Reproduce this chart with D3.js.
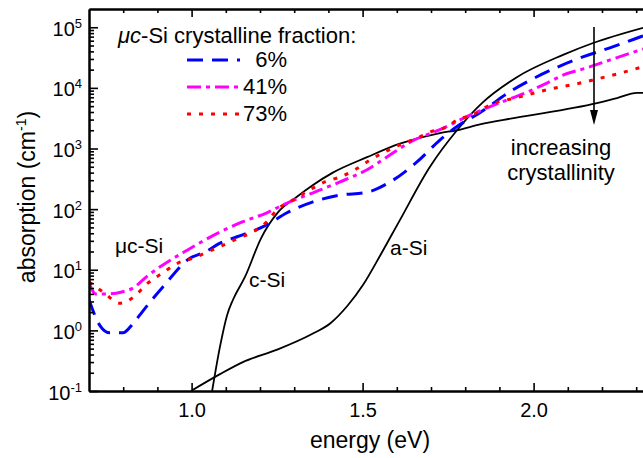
<!DOCTYPE html>
<html>
<head>
<meta charset="utf-8">
<script src="https://cdn.jsdelivr.net/npm/d3@7"></script>
<style>
  body { margin: 0; background: #fff; }
  svg { display: block; font-family: Arial, "Liberation Sans", sans-serif; }
</style>
</head>
<body>
<svg id="chart" width="643" height="458"></svg>
<script>
// absorption spectra of Si films

var majorE = [1.0, 1.5, 2.0];
var minorE = [0.8, 0.9, 1.1, 1.2, 1.3, 1.4, 1.6, 1.7, 1.8, 1.9, 2.1, 2.2, 2.3];
var decades = [-1, 0, 1, 2, 3, 4, 5];

// black reference curves
var aSiE = [0.998, 1.083, 1.150, 1.250, 1.352, 1.405, 1.457, 1.501, 1.551, 1.609, 1.697, 1.776, 1.849, 1.951, 2.086, 2.174, 2.320];
var aSiA = [0.1, 0.19, 0.30, 0.48, 0.87, 1.3, 2.6, 5.6, 17, 66, 500, 2000, 5600, 15000, 35000, 55000, 98000];
var cSiE = [1.060, 1.083, 1.104, 1.121, 1.156, 1.203, 1.253, 1.308, 1.355, 1.413, 1.513, 1.609, 1.726, 1.776, 1.843, 1.946, 2.185, 2.244, 2.302, 2.320];
var cSiA = [0.1, 0.54, 1.8, 3.2, 7.6, 33, 89, 160, 250, 400, 720, 1200, 1800, 2000, 2500, 3200, 5600, 6800, 8300, 8300];

// uc-Si, crystalline fraction 6 %
var e6 = [0.700, 0.732, 0.761, 0.799, 0.829, 0.858, 0.884, 0.916, 0.995, 1.039, 1.083, 1.133, 1.220, 1.279, 1.355, 1.434, 1.513, 1.580, 1.659, 1.726, 1.776, 1.843, 1.940, 1.998, 2.077, 2.144, 2.223, 2.311, 2.320];
var a6 = [3.2, 1.2, 0.91, 0.91, 1.3, 2.1, 3.2, 5.2, 15.5, 19.5, 27.5, 35, 55, 87, 132, 170, 190, 280, 600, 1380, 2300, 3900, 9300, 14100, 22900, 32400, 45700, 69000, 72000];
// 41 %
var e41 = [0.700, 0.720, 0.756, 0.796, 0.829, 0.873, 0.916, 0.987, 1.083, 1.150, 1.220, 1.279, 1.355, 1.434, 1.513, 1.571, 1.647, 1.726, 1.814, 1.922, 1.981, 2.039, 2.086, 2.156, 2.244, 2.320];
var a41 = [6.0, 4.0, 4.0, 4.3, 5.0, 8.1, 12, 21, 42, 62, 87, 126, 186, 282, 447, 724, 1350, 2040, 3550, 6300, 8500, 12000, 16200, 21400, 31600, 43700];
// 73 %
var e73 = [0.700, 0.741, 0.791, 0.829, 0.870, 0.916, 0.960, 1.004, 1.045, 1.086, 1.136, 1.180, 1.220, 1.250, 1.296, 1.346, 1.390, 1.434, 1.478, 1.522, 1.560, 1.609, 1.659, 1.697, 1.747, 1.776, 1.820, 1.873, 1.951, 2.039, 2.127, 2.209, 2.296, 2.320];
var a73 = [6.3, 4.3, 2.8, 3.5, 5.9, 8.9, 12.9, 15.5, 19.5, 24.5, 33, 42, 62, 98, 141, 209, 282, 339, 447, 646, 851, 1150, 1480, 1860, 2290, 2950, 3550, 5250, 6900, 9300, 11700, 15100, 20400, 22400];

var fractions = ['6%', '41%', '73%'];
var colors = ['#0000ff', '#ff00ff', '#ff0000'];
var dashes = ['16,9', '14,5,4,5', '4,8'];

var svg = d3.select('#chart');
var plotLeft = 89, plotTop = 9, plotBottom = 391;

var x = d3.scaleLinear().domain([0.7, 2.33]).range([plotLeft, plotLeft + 1.63 * 342]);
var y = d3.scaleLog().domain([0.1, 2e5]).range([plotBottom, plotTop]);

svg.append('clipPath').attr('id', 'clip')
  .append('rect').attr('x', plotLeft).attr('y', plotTop)
  .attr('width', 643 - plotLeft).attr('height', plotBottom - plotTop);

function zip(es, as) {
  return es.map(function(e, i) { return {e: e, a: as[i]}; });
}

var line = d3.line()
  .x(function(d) { return x(d.e); })
  .y(function(d) { return y(d.a); })
  .curve(d3.curveMonotoneX);

var plot = svg.append('g').attr('clip-path', 'url(#clip)');

plot.append('path').datum(zip(aSiE, aSiA))
  .attr('d', line).attr('fill', 'none').attr('stroke', '#000').attr('stroke-width', 1.8);
plot.append('path').datum(zip(cSiE, cSiA))
  .attr('d', line).attr('fill', 'none').attr('stroke', '#000').attr('stroke-width', 1.8);

var series = [zip(e6, a6), zip(e41, a41), zip(e73, a73)];
series.forEach(function(s, i) {
  plot.append('path').datum(s)
    .attr('d', line).attr('fill', 'none')
    .attr('stroke', colors[i]).attr('stroke-width', 3)
    .attr('stroke-dasharray', dashes[i]);
});

// axes, ticks pointing inward
function styleAxis(g) {
  g.select('.domain').attr('stroke-width', 2);
  g.selectAll('.tick line').attr('stroke-width', 1.6);
}

var gx = svg.append('g').attr('transform', 'translate(0,' + plotBottom + ')')
  .call(d3.axisBottom(x).tickValues(majorE).tickSizeInner(-8).tickSizeOuter(0)
    .tickPadding(12).tickFormat(d3.format('.1f')));
gx.selectAll('text').attr('font-size', 20).attr('fill', '#000');
styleAxis(gx);
svg.append('g').attr('transform', 'translate(0,' + plotBottom + ')')
  .call(d3.axisBottom(x).tickValues(minorE).tickSizeInner(-4).tickSizeOuter(0).tickFormat(''))
  .call(styleAxis);

svg.append('g').attr('transform', 'translate(0,' + plotTop + ')')
  .call(d3.axisTop(x).tickValues(majorE).tickSizeInner(-8).tickSizeOuter(0).tickFormat(''))
  .call(styleAxis);
svg.append('g').attr('transform', 'translate(0,' + plotTop + ')')
  .call(d3.axisTop(x).tickValues(minorE).tickSizeInner(-4).tickSizeOuter(0).tickFormat(''))
  .call(styleAxis);

var majorA = decades.map(function(p) { return Math.pow(10, p); });
var minorA = [];
decades.forEach(function(p) {
  for (var k = 2; k <= 9; k++) {
    var v = k * Math.pow(10, p);
    if (v < 2e5) minorA.push(v);
  }
});

var gy = svg.append('g').attr('transform', 'translate(' + plotLeft + ',0)')
  .call(d3.axisLeft(y).tickValues(majorA).tickSizeInner(-9).tickSizeOuter(0).tickFormat(''));
styleAxis(gy);
svg.append('g').attr('transform', 'translate(' + plotLeft + ',0)')
  .call(d3.axisLeft(y).tickValues(minorA).tickSizeInner(-5).tickSizeOuter(0).tickFormat(''))
  .call(styleAxis);

gy.selectAll('.tick').each(function(d) {
  var t = d3.select(this).append('text')
    .attr('x', -7).attr('y', 8).attr('text-anchor', 'end')
    .attr('fill', '#000').attr('font-size', 20);
  t.append('tspan').text('10');
  t.append('tspan').attr('dy', -8).attr('font-size', 13).text(Math.round(Math.log10(d)));
});

// axis titles
svg.append('text').attr('x', 370).attr('y', 448).attr('text-anchor', 'middle')
  .attr('font-size', 23).text('energy (eV)');

var yt = svg.append('text').attr('transform', 'translate(35,197) rotate(-90)')
  .attr('text-anchor', 'middle').attr('font-size', 23);
yt.append('tspan').text('absorption (cm');
yt.append('tspan').attr('dy', -9).attr('font-size', 14).text('-1');
yt.append('tspan').attr('dy', 9).text(')');

// legend
var lt = svg.append('text').attr('x', 118).attr('y', 43).attr('font-size', 22);
lt.append('tspan').attr('font-style', 'italic').text('\u03bcc');
lt.append('tspan').text('-Si crystalline fraction:');

fractions.forEach(function(f, i) {
  var ly = 60 + i * 27;
  svg.append('line').attr('x1', 187).attr('x2', 240).attr('y1', ly).attr('y2', ly)
    .attr('stroke', colors[i]).attr('stroke-width', 3).attr('stroke-dasharray', dashes[i]);
  svg.append('text').attr('x', 287).attr('y', ly + 7).attr('text-anchor', 'end')
    .attr('font-size', 22).text(f);
});

// curve labels
svg.append('text').attr('x', 115).attr('y', 253).attr('font-size', 21).text('\u03bcc-Si');
svg.append('text').attr('x', 249).attr('y', 287).attr('font-size', 21).text('c-Si');
svg.append('text').attr('x', 390).attr('y', 255).attr('font-size', 21).text('a-Si');
svg.append('text').attr('x', 561).attr('y', 155).attr('text-anchor', 'middle')
  .attr('font-size', 22).text('increasing');
svg.append('text').attr('x', 561).attr('y', 180).attr('text-anchor', 'middle')
  .attr('font-size', 22).text('crystallinity');

// arrow
svg.append('line').attr('x1', 594).attr('x2', 594).attr('y1', 27).attr('y2', 112)
  .attr('stroke', '#000').attr('stroke-width', 1.6);
svg.append('path').attr('d', 'M590,110 L598,110 L594,125 Z').attr('fill', '#000');
</script>
</body>
</html>
